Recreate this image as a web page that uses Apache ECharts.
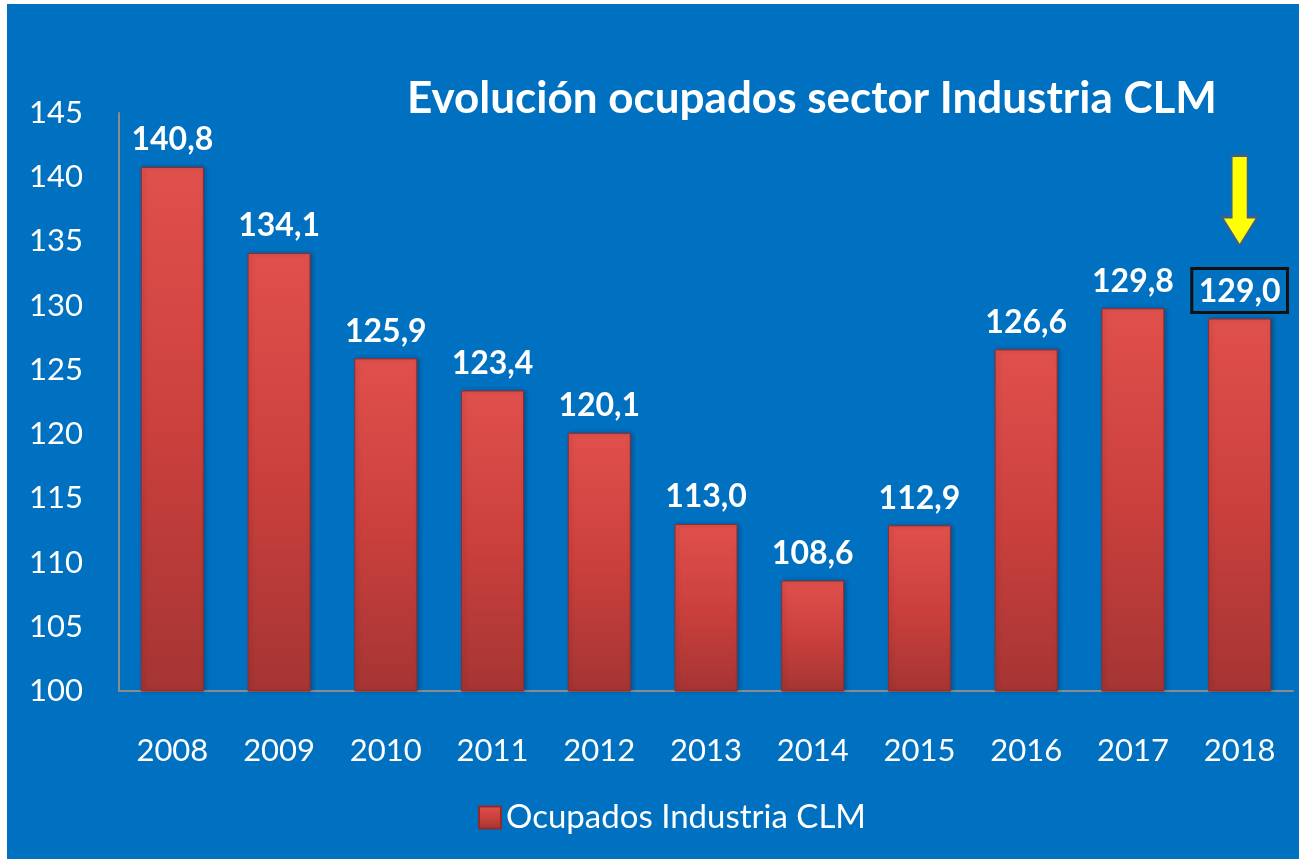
<!DOCTYPE html>
<html>
<head>
<meta charset="utf-8">
<script src="https://cdn.jsdelivr.net/npm/echarts@6/dist/echarts.min.js"></script>
<style>
  html, body { margin: 0; padding: 0; background: #ffffff; }
  #chart { position: absolute; left: 7px; top: 4px; width: 1292px; height: 855px; background: #0070C0; }
</style>
</head>
<body>
<div id="chart"></div>
<script>
var years = ['2008', '2009', '2010', '2011', '2012', '2013', '2014', '2015', '2016', '2017', '2018'];
var ocupados = [140.8, 134.1, 125.9, 123.4, 120.1, 113.0, 108.6, 112.9, 126.6, 129.8, 129.0];
var yTicks = [100, 105, 110, 115, 120, 125, 130, 135, 140, 145];

var chartDom = document.getElementById('chart');
var myChart = echarts.init(chartDom);
var option;

var barColor = new echarts.graphic.LinearGradient(0, 0, 0, 1, [
  { offset: 0, color: '#E0504C' },
  { offset: 0.5, color: '#CB403D' },
  { offset: 1, color: '#A53533' }
]);

var barData = ocupados.map(function (v, i) {
  var item = { value: v };
  if (i === ocupados.length - 1) {
    // ultimo dato recuadrado
    item.label = {
      borderColor: '#111111',
      borderWidth: 3,
      padding: [7, 7, 5, 7],
      distance: 6
    };
  }
  return item;
});

option = {
  animation: false,
  title: {
    text: 'Evolución ocupados sector Industria CLM',
    left: 395,
    top: 68,
    textStyle: {
      color: '#ffffff',
      fontFamily: 'Lato',
      fontWeight: 'bold',
      fontSize: 44
    }
  },
  legend: {
    bottom: 20,
    left: 466,
    itemWidth: 22,
    itemHeight: 22,
    itemGap: 6,
    icon: 'rect',
    textStyle: { color: '#ffffff', fontFamily: 'Lato', fontSize: 33 },
    data: ['Ocupados Industria CLM']
  },
  grid: {
    left: 112,
    right: 6,
    top: 109,
    bottom: 168,
    containLabel: false
  },
  xAxis: {
    type: 'category',
    data: years,
    axisLine: { lineStyle: { color: '#8C8C8C', width: 2 } },
    axisTick: { show: false },
    axisLabel: { color: '#ffffff', fontFamily: 'Lato', fontSize: 31, margin: 44 }
  },
  yAxis: {
    type: 'value',
    min: yTicks[0],
    max: yTicks[yTicks.length - 1],
    interval: 5,
    axisLine: { show: true, lineStyle: { color: '#8C8C8C', width: 2 } },
    axisTick: { show: false },
    splitLine: { show: false },
    axisLabel: { color: '#ffffff', fontFamily: 'Lato', fontSize: 31, margin: 36 }
  },
  series: [
    {
      name: 'Ocupados Industria CLM',
      type: 'bar',
      barWidth: 63,
      data: barData,
      itemStyle: {
        color: barColor,
        borderColor: '#8F2C2A',
        borderWidth: 1,
        shadowColor: 'rgba(0,0,0,0.25)',
        shadowBlur: 4,
        shadowOffsetX: 2
      },
      label: {
        show: true,
        position: 'top',
        distance: 11,
        color: '#ffffff',
        fontFamily: 'Lato',
        fontWeight: 'bold',
        fontSize: 32,
        formatter: function (p) {
          return p.value.toFixed(1).replace('.', ',');
        }
      },
      markPoint: {
        silent: true,
        data: [
          {
            coord: [years[years.length - 1], ocupados[ocupados.length - 1]],
            symbol: 'path://M4,0 L10,0 L10,15 L14,15 L7,22 L0,15 L4,15 Z',
            symbolSize: [36, 90],
            symbolOffset: [0, -118],
            symbolKeepAspect: false,
            itemStyle: { color: '#FFFF00', borderColor: '#3F5F8F', borderWidth: 2 },
            label: { show: false }
          }
        ]
      }
    }
  ]
};

option && myChart.setOption(option);
</script>
</body>
</html>
